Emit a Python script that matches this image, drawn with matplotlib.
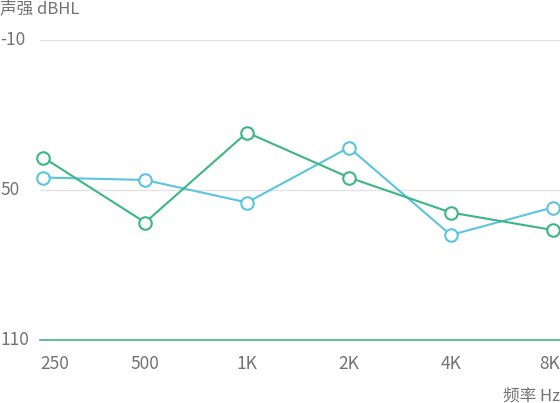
import matplotlib
matplotlib.use('Agg')
import matplotlib.pyplot as plt
import matplotlib.transforms as mtransforms

plt.rcParams['font.family'] = ['Noto Sans CJK SC', 'DejaVu Sans']

# data (dBHL, y axis runs downwards)
freqs = ['250', '500', '1K', '2K', '4K', '8K']
green_vals = [37, 63, 27, 45, 59, 66]
blue_vals = [45, 46, 55, 33, 68, 57]
y_ticks = [-10, 50, 110]

GREEN = '#3db684'
BLUE = '#5bc4df'
TXT = '#737373'

fig = plt.figure(figsize=(5.6, 4.03), dpi=100)
ax = fig.add_axes([40 / 560, 1 - 340 / 403, 1 - 40 / 560, 300 / 403])

x = list(range(len(freqs)))
xlo, xhi = -0.032, len(freqs) - 1 + 0.072
ax.set_xlim(xlo, xhi)
ax.set_ylim(110, -10)

# grid lines
for v in y_ticks[:-1]:
    ax.axhline(v, color='#e3e3e3', lw=1, zorder=1)
ax.axhline(110, color=GREEN, lw=1.2, zorder=1, clip_on=False)

for vals, c in [(blue_vals, BLUE), (green_vals, GREEN)]:
    ax.plot(x, vals, color=c, lw=1.5, marker='o', ms=9, mfc='white',
            mec=c, mew=1.5, zorder=3, clip_on=False)

for s in ax.spines.values():
    s.set_visible(False)
ax.set_xticks([])
ax.set_yticks([])

# y labels, left aligned at figure edge
tr = mtransforms.blended_transform_factory(fig.transFigure, ax.transData)
for v in y_ticks:
    ax.text(0.0, v, str(v), transform=tr, ha='left', va='center',
            fontsize=12.5, color=TXT, fontweight='light')

# x labels
trx = mtransforms.blended_transform_factory(ax.transData, fig.transFigure)
for i, lab in enumerate(freqs):
    ha = 'center'
    xi = i
    if i == 0:
        ha = 'left'
        xi = -0.0
        xi = xlo
    elif i == len(freqs) - 1:
        ha = 'right'
        xi = xhi
    ax.text(xi, 1 - 364 / 403, lab, transform=trx, ha=ha, va='center',
            fontsize=12.5, color=TXT, fontweight='light')

fig.text(0.0, 1 - 9 / 403, '声强 dBHL', ha='left', va='center',
         fontsize=12, color=TXT, fontweight='light')
fig.text(1.0, 1 - 396 / 403, '频率 Hz', ha='right', va='center',
         fontsize=12, color=TXT, fontweight='light')

fig.savefig('out.png', dpi=100)
